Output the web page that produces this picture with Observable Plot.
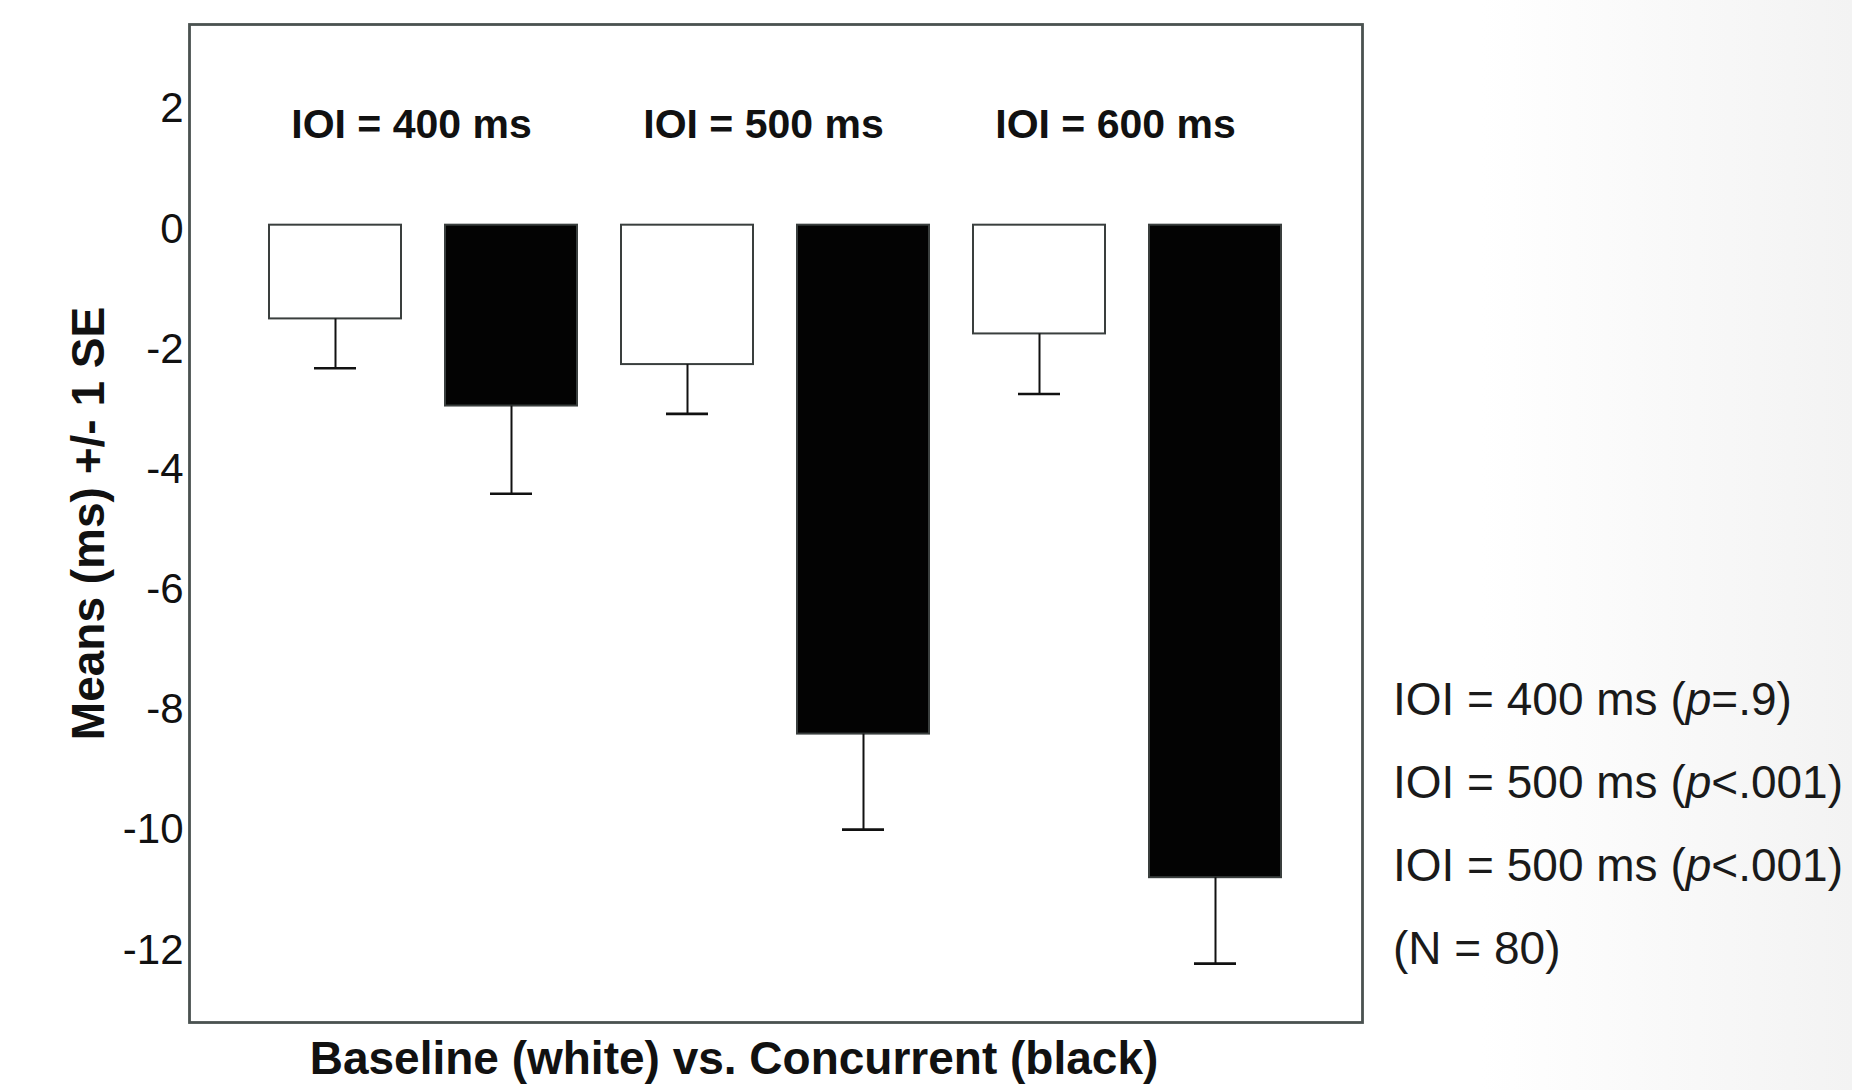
<!DOCTYPE html>
<html>
<head>
<meta charset="utf-8">
<script src="https://cdn.jsdelivr.net/npm/d3@7"></script>
<script src="https://cdn.jsdelivr.net/npm/@observablehq/plot@0.6"></script>
<style>
  html, body { margin: 0; padding: 0; }
  body {
    width: 1852px; height: 1090px; overflow: hidden; position: relative;
    background: linear-gradient(to right, #ffffff 0%, #ffffff 80%, #f3f3f3 100%);
    font-family: "Liberation Sans", Arial, sans-serif;
  }
  #chart { position: absolute; left: 0; top: 0; }
  #notes {
    position: absolute; left: 1393px; top: 658px;
    font-size: 46px; line-height: 83px; color: #1a1a1a;
    white-space: nowrap;
  }
</style>
</head>
<body>
<div id="chart"></div>
<div id="notes"></div>
<script>
// ---- data ----
const ioi = ["400", "500", "600"];
const conditions = ["Baseline", "Concurrent"];
const baselineMeans = [-1.56, -2.32, -1.81];
const baselineSE = [0.82, 0.82, 1.00];
const concurrentMeans = [-3.01, -8.47, -10.86];
const concurrentSE = [1.46, 1.59, 1.43];
const yTicks = [2, 0, -2, -4, -6, -8, -10, -12];
const groupLabels = ["IOI = 400 ms", "IOI = 500 ms", "IOI = 600 ms"];
const yTitle = "Means (ms) +/- 1 SE";
const xTitle = "Baseline (white) vs. Concurrent (black)";
const notes = [
  ["IOI = 400 ms (", "p", "=.9)"],
  ["IOI = 500 ms (", "p", "<.001)"],
  ["IOI = 500 ms (", "p", "<.001)"],
  ["(N = 80)", "", ""]
];

// ---- table ----
const rows = [];
ioi.forEach((g, i) => {
  rows.push({key: g + "-B", ioi: g, cond: "Baseline", mean: baselineMeans[i], low: baselineMeans[i] - baselineSE[i]});
  rows.push({key: g + "-C", ioi: g, cond: "Concurrent", mean: concurrentMeans[i], low: concurrentMeans[i] - concurrentSE[i]});
});
const keys = rows.map(d => d.key);
const labelRows = ioi.map((g, i) => ({key: g + "-B", label: groupLabels[i]}));

const chart = Plot.plot({
  width: 1852,
  height: 1090,
  marginLeft: 189,
  marginRight: 490,
  marginTop: 24,
  marginBottom: 68,
  style: {fontFamily: "'Liberation Sans', Arial, sans-serif", background: "transparent", color: "#111"},
  x: {type: "band", domain: keys, paddingInner: 0.248, paddingOuter: 0.456, axis: null},
  y: {domain: [-13.27, 3.34], axis: null},
  color: {domain: conditions, range: ["#ffffff", "#030303"]},
  marks: [
    Plot.frame({stroke: "#4a5250", strokeWidth: 2.8, fill: "white"}),
    Plot.barY(rows, {x: "key", y: "mean", fill: "cond", stroke: "#3a3f3e", strokeWidth: 2}),
    Plot.ruleX(rows, {x: "key", y1: "mean", y2: "low", stroke: "#111", strokeWidth: 2}),
    Plot.tickY(rows, {x: "key", y: "low", insetLeft: 45, insetRight: 45, stroke: "#111", strokeWidth: 2.6}),
    Plot.axisY({ticks: yTicks, tickSize: 0, tickPadding: 6, dy: 4, fontSize: 42, label: null, tickFormat: d => String(d).replace("−", "-")}),
    Plot.text(labelRows, {x: "key", text: "label", frameAnchor: "top", dx: 76, dy: 100, lineAnchor: "middle", textAnchor: "middle", fontSize: 41, fontWeight: "bold", fill: "#111"}),
    Plot.text([yTitle], {frameAnchor: "left", rotate: -90, dx: -100, textAnchor: "middle", lineAnchor: "middle", fontSize: 46, fontWeight: "bold", fill: "#111"}),
    Plot.text([xTitle], {frameAnchor: "bottom", dx: -42, dy: 37, textAnchor: "middle", lineAnchor: "middle", fontSize: 46, fontWeight: "bold", fill: "#111"})
  ]
});
document.getElementById("chart").appendChild(chart);

const notesDiv = document.getElementById("notes");
notes.forEach(([a, p, b]) => {
  const line = document.createElement("div");
  line.appendChild(document.createTextNode(a));
  if (p) {
    const i = document.createElement("i");
    i.textContent = p;
    line.appendChild(i);
  }
  line.appendChild(document.createTextNode(b));
  notesDiv.appendChild(line);
});
</script>
</body>
</html>
